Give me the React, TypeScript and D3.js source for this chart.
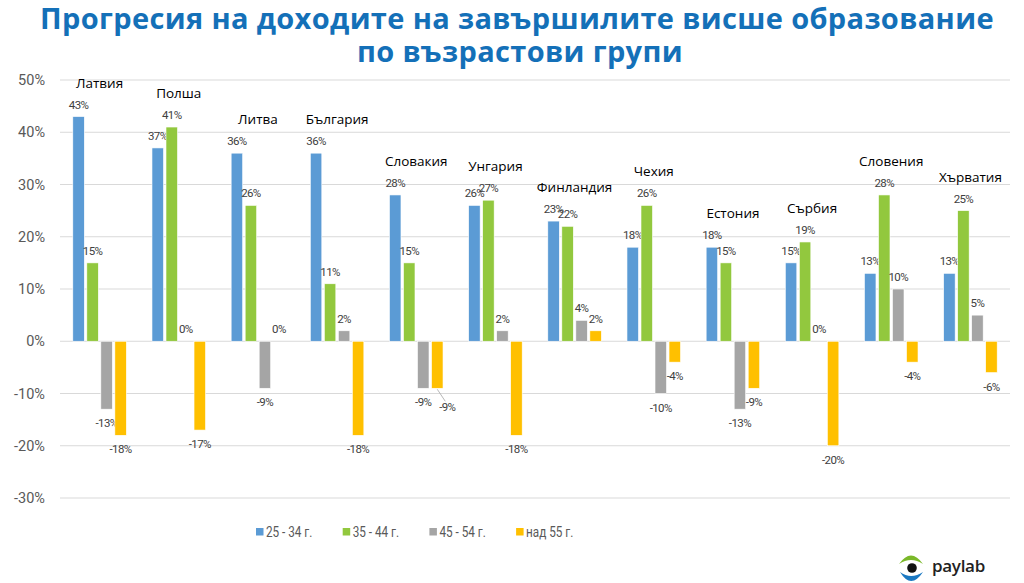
import { useEffect, useRef } from 'react';
import * as d3 from 'd3';

const countries = ['Латвия', 'Полша', 'Литва', 'България', 'Словакия', 'Унгария', 'Финландия', 'Чехия', 'Естония', 'Сърбия', 'Словения', 'Хърватия'];
const seriesNames = ['25 - 34 г.', '35 - 44 г.', '45 - 54 г.', 'над 55 г.'];
const age25 = [43, 37, 36, 36, 28, 26, 23, 18, 18, 15, 13, 13];
const age35 = [15, 41, 26, 11, 15, 27, 22, 26, 15, 19, 28, 25];
const age45 = [-13, 0, -9, 2, -9, 2, 4, -10, -13, 0, 10, 5];
const age55 = [-18, -17, 0, -18, -9, -18, 2, -4, -9, -20, -4, -6];
const yTicks = [50, 40, 30, 20, 10, 0, -10, -20, -30];
const colors = ['#5b9bd5', '#92c83e', '#a5a5a5', '#ffc000'];

const W = 1024;
const H = 583;

export default function App() {
  const svgRef = useRef<SVGSVGElement | null>(null);

  useEffect(() => {
    if (!svgRef.current) return;
    const svg = d3.select(svgRef.current);
    svg.selectAll('*').remove();

    const margin = { top: 80, right: 14, bottom: 85, left: 60 };
    const series = [age25, age35, age45, age55];

    const x = d3.scaleBand()
      .domain(countries)
      .range([margin.left, W - margin.right])
      .paddingInner(0.26)
      .paddingOuter(0.13);

    const xInner = d3.scaleBand()
      .domain(seriesNames)
      .range([0, x.bandwidth()])
      .padding(0.18);

    const y = d3.scaleLinear()
      .domain([-30, 50])
      .range([H - margin.bottom, margin.top]);

    // title
    const title = svg.append('g')
      .attr('font-family', '"Open Sans", sans-serif')
      .attr('font-weight', 700)
      .attr('font-size', 29)
      .attr('letter-spacing', 0.35)
      .attr('fill', '#1470b8')
      .attr('text-anchor', 'middle');
    title.append('text').attr('x', 517).attr('y', 29).text('Прогресия на доходите на завършилите висше образование');
    title.append('text').attr('x', 520).attr('y', 62).text('по възрастови групи');

    // grid + y axis labels
    const grid = svg.append('g');
    yTicks.forEach(t => {
      grid.append('line')
        .attr('x1', margin.left)
        .attr('x2', W - margin.right)
        .attr('y1', y(t))
        .attr('y2', y(t))
        .attr('stroke', '#d9d9d9')
        .attr('stroke-width', 1);
      grid.append('text')
        .attr('x', 45)
        .attr('y', y(t))
        .attr('dy', '0.35em')
        .attr('text-anchor', 'end')
        .attr('font-family', 'Roboto, sans-serif')
        .attr('font-size', 14.5)
        .attr('fill', '#595959')
        .text(`${t}%`);
    });

    // bars
    countries.forEach((c, i) => {
      const g = svg.append('g').attr('transform', `translate(${x(c)},0)`);
      series.forEach((s, j) => {
        const v = s[i];
        const bx = xInner(seriesNames[j])!;
        const cx = bx + xInner.bandwidth() / 2;
        g.append('rect')
          .attr('x', bx)
          .attr('width', xInner.bandwidth())
          .attr('y', y(Math.max(v, 0)))
          .attr('height', Math.abs(y(v) - y(0)))
          .attr('fill', colors[j])
          .attr('stroke', '#fff')
          .attr('stroke-width', 0.6);

        // a negative label that would sit on its neighbour's label gets pushed right with a leader line
        const prev = j > 0 ? series[j - 1][i] : 0;
        const clash = v < 0 && prev < 0 && Math.abs(y(v) - y(prev)) < 12;
        const lx = clash ? cx + 10 : cx;
        const ly = v >= 0 ? y(v) - 8 : y(v) + (clash ? 19 : 14);
        if (clash) {
          g.append('line')
            .attr('x1', cx)
            .attr('y1', y(v) + 1)
            .attr('x2', lx - 2)
            .attr('y2', ly - 6)
            .attr('stroke', '#a6a6a6')
            .attr('stroke-width', 0.8);
        }
        g.append('text')
          .attr('x', lx)
          .attr('y', ly)
          .attr('dy', v >= 0 ? 0 : '0.35em')
          .attr('text-anchor', 'middle')
          .attr('font-family', 'Roboto, sans-serif')
          .attr('font-size', 11.5)
          .attr('letter-spacing', -0.6)
          .attr('fill', '#404040')
          .text(`${v}%`);
      });
      const top = d3.max(series, s => s[i])!;
      g.append('text')
        .attr('x', x.bandwidth() / 2)
        .attr('y', y(top) - 29)
        .attr('text-anchor', 'middle')
        .attr('font-family', '"Open Sans", sans-serif')
        .attr('font-size', 13.5)
        .attr('fill', '#000')
        .text(c);
    });

    // legend (text squeezed horizontally, the original uses a narrow face)
    const legend = svg.append('g').attr('transform', 'translate(256,532)');
    seriesNames.forEach((n, j) => {
      const item = legend.append('g').attr('transform', `translate(${j * 86.7},0)`);
      item.append('rect')
        .attr('x', 0)
        .attr('y', -4)
        .attr('width', 7.5)
        .attr('height', 7.5)
        .attr('fill', colors[j]);
      item.append('text')
        .attr('transform', 'translate(10,0) scale(0.84,1)')
        .attr('dy', '0.35em')
        .attr('font-family', 'Roboto, sans-serif')
        .attr('font-size', 14)
        .attr('fill', '#595959')
        .text(n);
    });

    // paylab logo
    const logo = svg.append('g');
    logo.append('path')
      .attr('d', 'M899,564 Q911,547 923,564 Q911,556 899,564 Z')
      .attr('fill', '#7ab829');
    logo.append('path')
      .attr('d', 'M900,572 Q911,590 923,572 Q911,580 900,572 Z')
      .attr('fill', '#1a78c2');
    logo.append('circle').attr('cx', 912).attr('cy', 568).attr('r', 4.8).attr('fill', '#111');
    logo.append('text')
      .attr('x', 932)
      .attr('y', 572)
      .attr('font-family', '"Open Sans", sans-serif')
      .attr('font-size', 17)
      .attr('font-weight', 600)
      .attr('letter-spacing', -0.3)
      .attr('fill', '#222')
      .text('paylab');
  }, []);

  return (
    <svg
      ref={svgRef}
      width={W}
      height={H}
      style={{ position: 'absolute', left: 0, top: 0, background: '#fff' }}
    />
  );
}
